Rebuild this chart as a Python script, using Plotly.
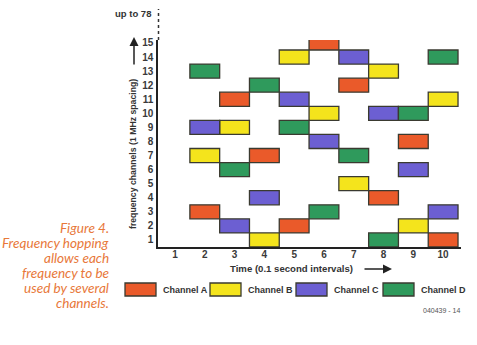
import plotly.graph_objects as go

# ---- data ----
time_ticks = [1, 2, 3, 4, 5, 6, 7, 8, 9, 10]
channel_ticks = list(range(1, 16))
hop_times = [2, 3, 4, 5, 6, 7, 8, 9, 10]
channel_a = [3, 11, 7, 2, 15, 12, 4, 8, 1]
channel_b = [7, 9, 1, 14, 10, 5, 13, 2, 11]
channel_c = [9, 2, 4, 11, 8, 14, 10, 6, 3]
channel_d = [13, 6, 12, 9, 3, 7, 1, 10, 14]
series_names = ["Channel A", "Channel B", "Channel C", "Channel D"]
series_values = [channel_a, channel_b, channel_c, channel_d]
colors = ["#ea5a2a", "#f4e41c", "#6c5fd2", "#2f9a5c"]
hop_duration = 1  # one time interval
channel_height = 1  # one channel

W, H = 477, 345
L, R, T, B = 158, 16, 40, 98
PW, PH = W - L - R, H - T - B


def px(x):
    return (x - L) / PW


def py(y):
    return (H - B - y) / PH


fig = go.Figure()
for name, vals, col in zip(series_names, series_values, colors):
    fig.add_trace(go.Bar(
        x=hop_times,
        y=[channel_height] * len(vals),
        base=[v - channel_height / 2 for v in vals],
        width=hop_duration,
        name=name,
        marker=dict(color=col, line=dict(color="#3a3a30", width=1.3)),
        showlegend=False,
    ))

tickfont = dict(family="Liberation Sans, Arial", size=10, color="#3a3a3a", weight="bold")
fig.update_layout(
    width=W, height=H,
    margin=dict(l=L, r=R, t=T, b=B),
    paper_bgcolor="white", plot_bgcolor="white",
    barmode="overlay",
    xaxis=dict(range=[0.43, 10.6], tickvals=time_ticks, ticktext=[str(t) for t in time_ticks],
               showgrid=False, zeroline=False, showline=True, linecolor="#222", linewidth=1.5,
               ticks="", ticklen=0, tickfont=tickfont, ticklabelstandoff=-3),
    yaxis=dict(range=[0.5, 15.21], tickvals=channel_ticks, ticktext=[str(c) for c in channel_ticks],
               showgrid=False, zeroline=False, showline=True, linecolor="#222", linewidth=1.5,
               ticks="", ticklen=0, tickfont=tickfont, ticklabelstandoff=1),
)

shapes = []
annotations = []
# dotted continuation of y axis
shapes.append(dict(type="line", xref="paper", yref="paper", x0=px(158.5), x1=px(158.5),
                   y0=py(40), y1=py(9), line=dict(color="#333", width=1.5, dash="dot")))
annotations.append(dict(text="up to 78", xref="paper", yref="paper", x=px(153), y=py(13),
                        xanchor="right", yanchor="middle", showarrow=False,
                        font=dict(family="Liberation Sans, Arial", size=9.5, color="#333", weight="bold")))
# axis titles
annotations.append(dict(text="frequency channels (1 MHz spacing)", xref="paper", yref="paper",
                        x=px(133), y=py(154), textangle=-90, showarrow=False,
                        xanchor="center", yanchor="middle",
                        font=dict(family="Liberation Sans, Arial", size=8.7, color="#333", weight="bold")))
annotations.append(dict(text="", xref="paper", yref="paper", x=px(134), y=py(37),
                        ax=0, ay=29, axref="pixel", ayref="pixel", showarrow=True,
                        arrowhead=2, arrowsize=1.2, arrowwidth=1.5, arrowcolor="#222"))
annotations.append(dict(text="Time (0.1 second intervals)", xref="paper", yref="paper",
                        x=px(291), y=py(268), showarrow=False,
                        xanchor="center", yanchor="middle",
                        font=dict(family="Liberation Sans, Arial", size=9.6, color="#333", weight="bold")))
annotations.append(dict(text="", xref="paper", yref="paper", x=px(392), y=py(269),
                        ax=-29, ay=0, axref="pixel", ayref="pixel", showarrow=True,
                        arrowhead=2, arrowsize=1.2, arrowwidth=1.5, arrowcolor="#222"))
# legend
legend_x = [125, 210, 296, 383]
for name, col, lx in zip(series_names, colors, legend_x):
    shapes.append(dict(type="rect", xref="paper", yref="paper", x0=px(lx), x1=px(lx + 31),
                       y0=py(283), y1=py(296), fillcolor=col, line=dict(color="#3a3a30", width=1.3)))
    annotations.append(dict(text=name, xref="paper", yref="paper", x=px(lx + 36), y=py(290),
                            xanchor="left", yanchor="middle", showarrow=False,
                            font=dict(family="Liberation Sans, Arial", size=9, color="#333", weight="bold")))
annotations.append(dict(text="040439 - 14", xref="paper", yref="paper", x=px(462), y=py(310),
                        xanchor="right", yanchor="middle", showarrow=False,
                        font=dict(family="Liberation Sans, Arial", size=7, color="#555")))
# caption
caption = ["Figure 4.", "Frequency hopping", "allows each", "frequency to be",
           "used by several", "channels."]
for i, line in enumerate(caption):
    annotations.append(dict(text="<i>" + line + "</i>", xref="paper", yref="paper", x=px(111),
                            y=py(228 + 15 * i), xanchor="right", yanchor="middle", showarrow=False,
                            font=dict(family="Lato, Noto Sans", size=13.6, color="#e8783a")))

fig.update_layout(shapes=shapes, annotations=annotations)
fig.write_html("out.html")
